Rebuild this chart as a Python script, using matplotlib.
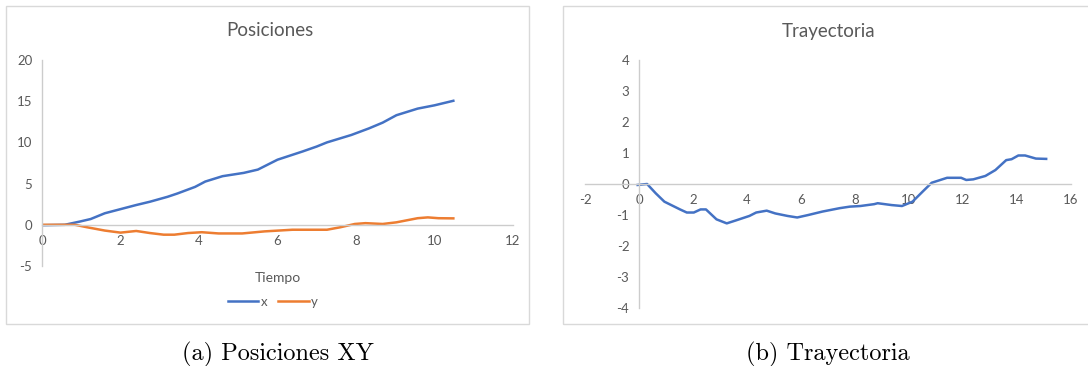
import matplotlib
matplotlib.use("Agg")
import matplotlib.pyplot as plt
from matplotlib.patches import Rectangle
from matplotlib.lines import Line2D

plt.rcParams["font.family"] = ["Lato", "DejaVu Sans"]
plt.rcParams["axes.unicode_minus"] = False

# Posiciones: x(t) and y(t)
t_x = [0, 0.58, 0.97, 1.24, 1.6, 2.0, 2.4, 2.75, 3.2, 3.45, 3.9, 4.16, 4.6,
       5.14, 5.5, 6.0, 6.64, 7.0, 7.26, 7.88, 8.33, 8.68, 9.03, 9.57, 10.0, 10.48]
pos_x = [-0.05, 0, 0.4, 0.7, 1.4, 1.9, 2.4, 2.8, 3.4, 3.8, 4.6, 5.25, 5.9,
         6.3, 6.7, 7.9, 8.9, 9.5, 10.0, 10.9, 11.7, 12.4, 13.3, 14.1, 14.5, 15.05]
t_y = [0, 0.84, 1.15, 1.6, 2.0, 2.4, 2.75, 3.1, 3.37, 3.72, 4.07, 4.5, 5.1,
       5.67, 6.38, 6.9, 7.26, 7.6, 7.97, 8.24, 8.68, 9.03, 9.57, 9.83, 10.1, 10.48]
pos_y = [0, 0, -0.3, -0.7, -0.95, -0.75, -1.0, -1.2, -1.2, -1.0, -0.9, -1.05, -1.05,
         -0.8, -0.6, -0.6, -0.6, -0.3, 0.1, 0.2, 0.1, 0.3, 0.8, 0.9, 0.8, 0.78]

# Trayectoria: y against x
tray_x = [-0.05, 0.3, 0.62, 0.94, 1.52, 1.77, 2.03, 2.28, 2.48, 2.87, 3.25, 3.57,
          4.09, 4.34, 4.73, 5.05, 5.5, 5.86, 6.27, 6.79, 7.43, 7.81, 8.2, 8.71,
          8.84, 9.36, 9.74, 10.13, 10.5, 10.84, 11.16, 11.41, 11.93, 12.12, 12.38,
          12.83, 13.2, 13.6, 13.8, 14.05, 14.3, 14.7, 15.08]
tray_y = [-0.03, 0, -0.3, -0.57, -0.82, -0.92, -0.92, -0.82, -0.82, -1.14, -1.27, -1.18,
          -1.03, -0.92, -0.86, -0.95, -1.03, -1.08, -1.0, -0.89, -0.78, -0.73, -0.71, -0.65,
          -0.62, -0.68, -0.71, -0.57, -0.25, 0.04, 0.13, 0.2, 0.2, 0.13, 0.15,
          0.26, 0.45, 0.77, 0.8, 0.92, 0.92, 0.82, 0.81]

pos_xticks = [0, 2, 4, 6, 8, 10, 12]
pos_yticks = [-5, 0, 5, 10, 15, 20]
tray_xticks = [-2, 0, 2, 4, 6, 8, 10, 12, 14, 16]
tray_yticks = [-4, -3, -2, -1, 0, 1, 2, 3, 4]

BLUE = "#4472C4"
ORANGE = "#ED7D31"
TEXT = "#595959"
AXIS = "#CCCCCC"
FRAME = "#D9D9D9"

W, H = 1088, 366
fig = plt.figure(figsize=(W / 100, H / 100), dpi=100)


def px_axes(x0, x1, y0, y1):
    """Axes from pixel box (x0..x1 left-right, y0..y1 top-bottom)."""
    return fig.add_axes([x0 / W, 1 - y1 / H, (x1 - x0) / W, (y1 - y0) / H])


def style(ax):
    for side in ("top", "right"):
        ax.spines[side].set_visible(False)
    for side in ("left", "bottom"):
        ax.spines[side].set_position(("data", 0))
        ax.spines[side].set_color(AXIS)
        ax.spines[side].set_linewidth(1.0)
    ax.tick_params(axis="both", length=0, labelsize=9.5, labelcolor=TEXT)
    ax.tick_params(axis="y", pad=7)
    ax.tick_params(axis="x", pad=7)
    ax.patch.set_alpha(0)


# chart frames
fig.patches.append(Rectangle((6 / W, 1 - 324 / H), (529 - 6) / W, (324 - 6) / H,
                             transform=fig.transFigure, fill=False,
                             edgecolor=FRAME, linewidth=1.0))
fig.patches.append(Rectangle((563 / W, 1 - 324 / H), (1095 - 563) / W, (324 - 6) / H,
                             transform=fig.transFigure, fill=False,
                             edgecolor=FRAME, linewidth=1.0))

# left chart
ax1 = px_axes(42, 513, 60, 266)
ax1.plot(t_x, pos_x, color=BLUE, lw=1.8, solid_joinstyle="round")
ax1.plot(t_y, pos_y, color=ORANGE, lw=1.8, solid_joinstyle="round")
ax1.set_xlim(0, 12)
ax1.set_ylim(-5, 20)
ax1.set_xticks(pos_xticks)
ax1.set_yticks(pos_yticks)
style(ax1)

fig.text(270 / W, 1 - 31 / H, "Posiciones", ha="center", va="center",
         fontsize=13.5, color=TEXT)
fig.text(278 / W, 1 - 278 / H, "Tiempo", ha="center", va="center",
         fontsize=10, color=TEXT)
handles = [Line2D([], [], color=BLUE, lw=1.8), Line2D([], [], color=ORANGE, lw=1.8)]
fig.legend(handles, ["x", "y"], loc="center", bbox_to_anchor=(273 / W, 1 - 302 / H),
           ncol=2, frameon=False, fontsize=9.5, handlelength=2.3,
           handletextpad=0.2, columnspacing=0.8, labelcolor=TEXT)

# right chart
ax2 = px_axes(585, 1071, 60, 308)
ax2.plot(tray_x, tray_y, color=BLUE, lw=1.8, solid_joinstyle="round")
ax2.set_xlim(-2, 16)
ax2.set_ylim(-4, 4)
ax2.set_xticks(tray_xticks)
ax2.set_yticks(tray_yticks)
style(ax2)

fig.text(829 / W, 1 - 31 / H, "Trayectoria", ha="center", va="center",
         fontsize=13.5, color=TEXT)

# captions
fig.text(278 / W, 1 - 354 / H, "(a) Posiciones XY", ha="center", va="center",
         fontsize=17.5, family="cmr10", color="black")
fig.text(828 / W, 1 - 354 / H, "(b) Trayectoria", ha="center", va="center",
         fontsize=17.5, family="cmr10", color="black")

fig.savefig("out.png", dpi=100)
